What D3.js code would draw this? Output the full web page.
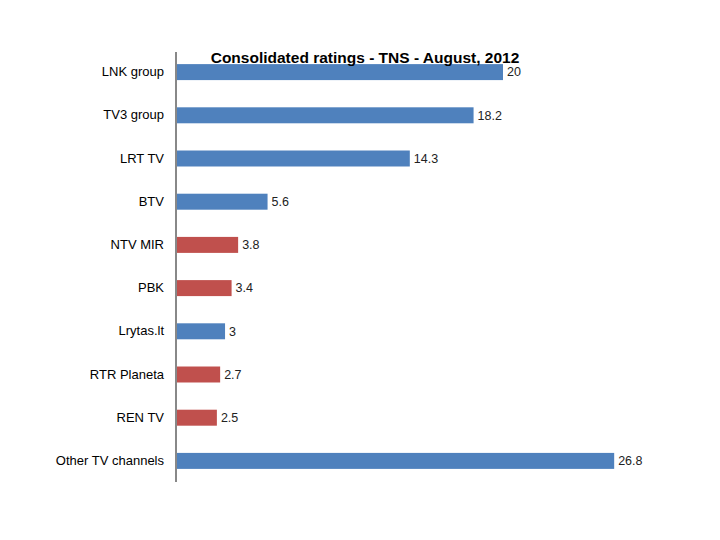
<!DOCTYPE html>
<html>
<head>
<meta charset="utf-8">
<script src="https://cdn.jsdelivr.net/npm/d3@7"></script>
<style>
  body { margin: 0; background: #fff; }
  svg { display: block; }
</style>
</head>
<body>
<svg width="720" height="540"></svg>
<script>
// data
var channels = ["LNK group", "TV3 group", "LRT TV", "BTV", "NTV MIR", "PBK",
                "Lrytas.lt", "RTR Planeta", "REN TV", "Other TV channels"];
var ratings = [20, 18.2, 14.3, 5.6, 3.8, 3.4, 3, 2.7, 2.5, 26.8];
var russian = ["NTV MIR", "PBK", "RTR Planeta", "REN TV"];

function main() {
    var svg = d3.select("svg");
    var font = "'Liberation Sans', Arial, sans-serif";

    var xScale = d3.scaleLinear().domain([0, 20]).range([176, 503]),
        yScale = d3.scaleBand().domain(channels).range([50.5, 482.5])
                   .paddingInner(0.63).paddingOuter(0.315);

    var data = channels.map(function(c, i) { return { name: c, value: ratings[i] }; });

    svg.selectAll(".bar")
       .data(data)
       .enter().append("rect")
       .attr("class", "bar")
       .attr("x", xScale(0))
       .attr("y", function(d) { return yScale(d.name); })
       .attr("width", function(d) { return xScale(d.value) - xScale(0); })
       .attr("height", yScale.bandwidth())
       .attr("fill", function(d) { return russian.indexOf(d.name) >= 0 ? "#C0504D" : "#4F81BD"; });

    // value labels
    svg.selectAll(".val")
       .data(data)
       .enter().append("text")
       .attr("x", function(d) { return xScale(d.value) + 4; })
       .attr("y", function(d) { return yScale(d.name) + yScale.bandwidth() / 2; })
       .attr("dy", "0.35em")
       .attr("font-family", font)
       .attr("font-size", "12.5px")
       .attr("fill", "#222")
       .text(function(d) { return d.value; });

    // category axis
    var axis = svg.append("g")
       .attr("transform", "translate(" + xScale(0) + ",0)")
       .call(d3.axisLeft(yScale).tickSize(0).tickPadding(12));
    axis.select(".domain").attr("stroke", "#888").attr("stroke-width", 2)
        .attr("d", "M0,52V482");
    axis.selectAll("text")
        .attr("font-family", font)
        .attr("font-size", "13px")
        .attr("fill", "#000");

    svg.append("text")
       .attr("x", 365)
       .attr("y", 63)
       .attr("text-anchor", "middle")
       .attr("font-family", font)
       .attr("font-weight", "bold")
       .attr("font-size", "15.5px")
       .text("Consolidated ratings - TNS - August, 2012");
}
main();
</script>
</body>
</html>
